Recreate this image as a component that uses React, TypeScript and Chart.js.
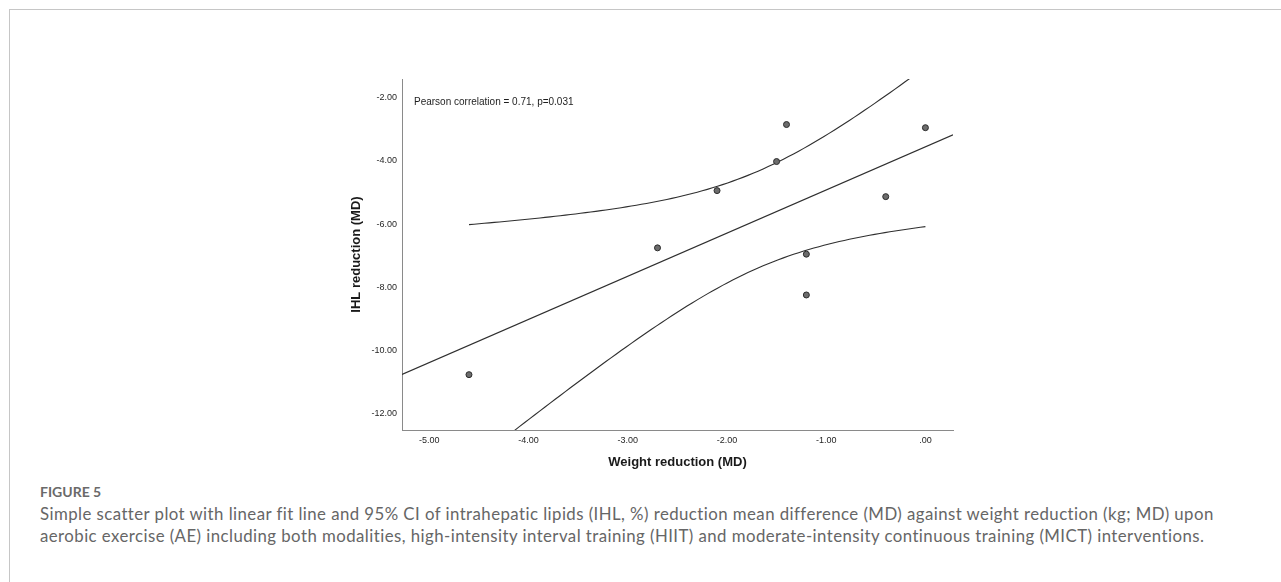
import React, { useEffect, useRef } from "react";
import { Chart, registerables } from "chart.js";

Chart.register(...registerables);

// Study-level mean differences: weight reduction (kg) vs IHL reduction (%)
const weightReduction = [-4.6, -2.7, -2.1, -1.5, -1.4, -1.2, -1.2, -0.4, 0.0];
const ihlReduction = [-10.76, -6.75, -4.94, -4.02, -2.85, -6.95, -8.24, -5.13, -2.95];

const xTicks = [-5, -4, -3, -2, -1, 0];
const xTickLabels = ["-5.00", "-4.00", "-3.00", "-2.00", "-1.00", ".00"];
const yTicks = [-12, -10, -8, -6, -4, -2];
const yTickLabels = ["-12.00", "-10.00", "-8.00", "-6.00", "-4.00", "-2.00"];

const xRange = [-5.275, 0.278];
const yRange = [-12.51, -1.41];

// two-sided 95% critical value of Student's t with n - 2 = 7 degrees of freedom
const tCritical = 2.3646;
const correlationNote = "Pearson correlation = 0.71, p=0.031";

const captionLabel = "FIGURE 5";
const captionLines = [
  "Simple scatter plot with linear fit line and 95% CI of intrahepatic lipids (IHL, %) reduction mean difference (MD) against weight reduction (kg; MD) upon",
  "aerobic exercise (AE) including both modalities, high-intensity interval training (HIIT) and moderate-intensity continuous training (MICT) interventions.",
];

const AXIS_FONT = '"Liberation Sans", Arial, Helvetica, sans-serif';
const CAPTION_FONT = "Lato, 'Open Sans', sans-serif";

// least-squares fit with the mean-response confidence band
function linearFit(xs: number[], ys: number[]) {
  const n = xs.length;
  const mx = xs.reduce((a, b) => a + b, 0) / n;
  const my = ys.reduce((a, b) => a + b, 0) / n;
  let sxx = 0;
  let sxy = 0;
  for (let i = 0; i < n; i++) {
    sxx += (xs[i] - mx) ** 2;
    sxy += (xs[i] - mx) * (ys[i] - my);
  }
  const slope = sxy / sxx;
  const intercept = my - slope * mx;
  let sse = 0;
  for (let i = 0; i < n; i++) sse += (ys[i] - (intercept + slope * xs[i])) ** 2;
  const s = Math.sqrt(sse / (n - 2));
  const predict = (x: number) => intercept + slope * x;
  const halfWidth = (x: number) => tCritical * s * Math.sqrt(1 / n + (x - mx) ** 2 / sxx);
  return { predict, halfWidth };
}

const pearsonNotePlugin = {
  id: "pearsonNote",
  afterDatasetsDraw(chart: any) {
    const { ctx, chartArea } = chart;
    ctx.save();
    ctx.font = `10px ${AXIS_FONT}`;
    ctx.fillStyle = "#1e1e1e";
    ctx.textAlign = "left";
    ctx.textBaseline = "middle";
    ctx.fillText(correlationNote, chartArea.left + 12, chartArea.top + 23);
    ctx.restore();
  },
};

function ScatterChart() {
  const canvasRef = useRef<HTMLCanvasElement | null>(null);

  useEffect(() => {
    const canvas = canvasRef.current;
    if (!canvas) return;

    const fit = linearFit(weightReduction, ihlReduction);
    const points = weightReduction.map((x, i) => ({ x, y: ihlReduction[i] }));
    const fitLine = xRange.map((x) => ({ x, y: fit.predict(x) }));

    const lo = Math.min(...weightReduction);
    const hi = Math.max(...weightReduction);
    const steps = 90;
    const upper: { x: number; y: number }[] = [];
    const lower: { x: number; y: number }[] = [];
    for (let k = 0; k <= steps; k++) {
      const x = lo + ((hi - lo) * k) / steps;
      upper.push({ x, y: fit.predict(x) + fit.halfWidth(x) });
      lower.push({ x, y: fit.predict(x) - fit.halfWidth(x) });
    }

    const lineStyle = {
      type: "line" as const,
      borderColor: "#2f2f2f",
      borderWidth: 1.1,
      pointRadius: 0,
      fill: false,
      tension: 0,
      showLine: true,
    };

    const tickFont = { family: AXIS_FONT, size: 9 };
    const titleFont = { family: AXIS_FONT, size: 13, weight: "bold" as const };

    const chart = new Chart(canvas, {
      type: "scatter",
      data: {
        datasets: [
          {
            type: "scatter",
            data: points,
            pointRadius: 3,
            pointBackgroundColor: "#6c6c6c",
            pointBorderColor: "#2b2b2b",
            pointBorderWidth: 1,
          },
          { ...lineStyle, data: fitLine },
          { ...lineStyle, data: upper },
          { ...lineStyle, data: lower },
        ] as any,
      },
      options: {
        animation: false,
        responsive: false,
        layout: { padding: { left: 340, top: 79, right: 328, bottom: 10 } },
        plugins: {
          legend: { display: false },
          tooltip: { enabled: false },
        },
        scales: {
          x: {
            type: "linear",
            min: xRange[0],
            max: xRange[1],
            afterFit: (scale: any) => {
              scale.height = 40;
            },
            afterBuildTicks: (scale: any) => {
              scale.ticks = xTicks.map((value) => ({ value }));
            },
            ticks: {
              font: tickFont,
              color: "#262626",
              padding: 5,
              maxRotation: 0,
              callback: (v: any) => xTickLabels[xTicks.indexOf(Number(v))] ?? "",
            },
            grid: { display: false, drawTicks: false },
            border: { display: true, color: "#8a8a8a", width: 1 },
            title: {
              display: true,
              text: "Weight reduction (MD)",
              font: titleFont,
              color: "#1a1a1a",
              padding: { top: 0, bottom: 0 },
            },
          },
          y: {
            type: "linear",
            min: yRange[0],
            max: yRange[1],
            afterFit: (scale: any) => {
              scale.width = 62;
            },
            afterBuildTicks: (scale: any) => {
              scale.ticks = yTicks.map((value) => ({ value }));
            },
            ticks: {
              font: tickFont,
              color: "#262626",
              padding: 5,
              callback: (v: any) => yTickLabels[yTicks.indexOf(Number(v))] ?? "",
            },
            grid: { display: false, drawTicks: false },
            border: { display: true, color: "#8a8a8a", width: 1 },
            title: {
              display: true,
              text: "IHL reduction (MD)",
              font: titleFont,
              color: "#1a1a1a",
              padding: { top: 9, bottom: 0 },
            },
          },
        },
      },
      plugins: [pearsonNotePlugin],
    });

    return () => chart.destroy();
  }, []);

  return (
    <canvas
      ref={canvasRef}
      width={1281}
      height={480}
      style={{ position: "absolute", left: 0, top: 0, width: 1281, height: 480 }}
    />
  );
}

export default function App() {
  return (
    <div
      style={{
        position: "absolute",
        left: 0,
        top: 0,
        width: 1281,
        height: 582,
        background: "#ffffff",
        overflow: "hidden",
      }}
    >
      <div style={{ position: "absolute", left: 9, top: 9, width: 1272, height: 1, background: "#c6c6c6" }} />
      <div style={{ position: "absolute", left: 9, top: 9, width: 1, height: 573, background: "#c6c6c6" }} />
      <ScatterChart />
      <div
        style={{
          position: "absolute",
          left: 40,
          top: 483,
          fontFamily: CAPTION_FONT,
          fontWeight: 700,
          fontSize: 14,
          lineHeight: "18px",
          color: "#6a6a6a",
          whiteSpace: "nowrap",
        }}
      >
        {captionLabel}
      </div>
      <div
        style={{
          position: "absolute",
          left: 40,
          top: 503,
          fontFamily: CAPTION_FONT,
          fontSize: 16.8,
          letterSpacing: "0.45px",
          lineHeight: "22px",
          color: "#666666",
          whiteSpace: "nowrap",
        }}
      >
        {captionLines.map((line, i) => (
          <div key={i}>{line}</div>
        ))}
      </div>
    </div>
  );
}
